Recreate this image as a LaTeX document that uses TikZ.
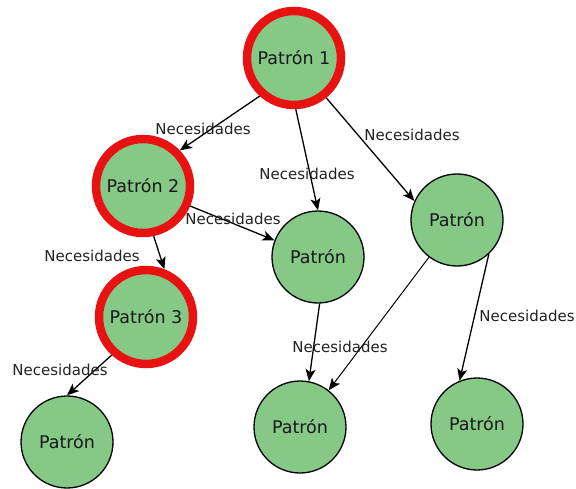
\documentclass[tikz,border=0pt]{standalone}
\usepackage{fontspec}
\setmainfont{DejaVu Sans}
\usetikzlibrary{arrows.meta}
\definecolor{patfill}{RGB}{134,200,134}
\definecolor{patring}{RGB}{232,18,18}
\definecolor{labtext}{RGB}{34,34,34}
\tikzset{
  pattern node/.style={circle, draw=black, line width=1.3pt, fill=patfill,
    minimum size=92pt, inner sep=0pt, font=\fontsize{17.5}{20}\selectfont, text=black!90},
  active node/.style={pattern node, draw=patring, line width=8.5pt, minimum size=94pt},
  need/.style={-{Stealth[length=12pt,width=10pt,inset=3pt]}, line width=1.3pt, black},
  thin need/.style={need, line width=1pt},
  need label/.style={font=\fontsize{15}{18}\selectfont, text=labtext, inner sep=0pt}
}
\begin{document}
\begin{tikzpicture}[x=1pt,y=-1pt]
  \useasboundingbox (0,0) rectangle (576,488);

  % pattern nodes
  \node[active node] (p1) at (294,58) {Patrón 1};
  \node[active node] (p2) at (143,186) {Patrón 2};
  \node[active node] (p3) at (146,317) {Patrón 3};
  \node[pattern node] (bl) at (67,442) {Patrón};
  \node[pattern node] (mid) at (318,257) {Patrón};
  \node[pattern node] (rt) at (457,220) {Patrón};
  \node[pattern node] (bm) at (300,427) {Patrón};
  \node[pattern node] (br) at (477,424) {Patrón};

  % connectors
  \draw[need] (p1.228) -- (p2.44);
  \draw[need] (p1.272) -- (mid.90);
  \draw[need] (p1.309) -- (rt.156);
  \draw[need] (p2.337) -- (mid.159);
  \draw[need] (p2.282) -- (p3.69);
  \draw[need] (p3.228) -- (bl.90);
  \draw[need] (mid.272) -- (bm.79);
  \draw[thin need] (rt.233) -- (bm.52);
  \draw[need] (rt.313) -- (br.112);

  % connector labels
  \node[need label] (l1) at (203,129) {Necesidades};
  \node[need label] (l2) at (307,174) {Necesidades};
  \node[need label] (l3) at (412,135) {Necesidades};
  \node[need label] (l4) at (233,219) {Necesidades};
  \node[need label] (l5) at (92,256) {Necesidades};
  \node[need label] (l6) at (60,370) {Necesidades};
  \node[need label] (l7) at (340,347) {Necesidades};
  \node[need label] (l8) at (527,316) {Necesidades};
\end{tikzpicture}
\end{document}
